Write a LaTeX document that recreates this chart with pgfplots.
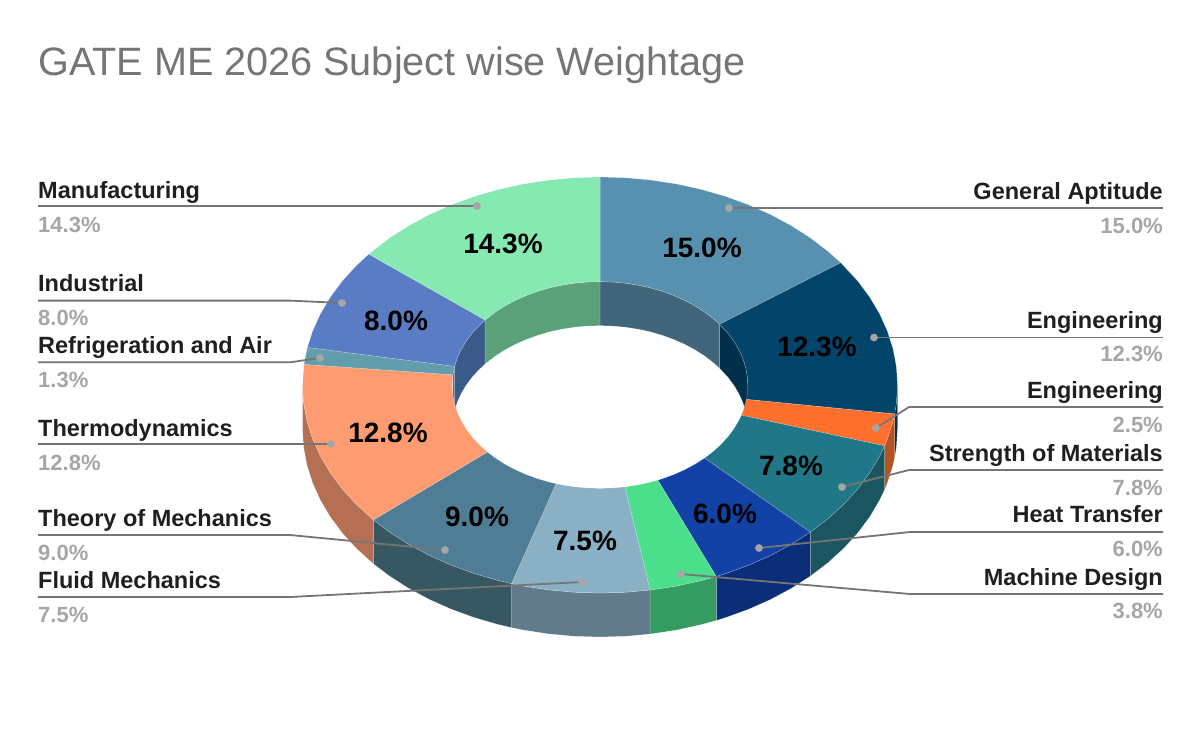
\documentclass[border=0pt]{standalone}
\usepackage{fontspec}
\setmainfont{Liberation Sans}
\usepackage{pgfplots}
\pgfplotsset{compat=1.18}

% top face colours
\definecolor{cGA}{HTML}{5891B0}
\definecolor{cEa}{HTML}{03456A}
\definecolor{cEb}{HTML}{FF6F2E}
\definecolor{cSM}{HTML}{1F7787}
\definecolor{cHT}{HTML}{1242A6}
\definecolor{cMD}{HTML}{4CDF8B}
\definecolor{cFM}{HTML}{8AB0C6}
\definecolor{cTM}{HTML}{4F7D95}
\definecolor{cTD}{HTML}{FF9B70}
\definecolor{cRA}{HTML}{619DAB}
\definecolor{cIN}{HTML}{5A7CC4}
\definecolor{cMF}{HTML}{85E9B1}
% side wall colours
\definecolor{wGA}{HTML}{41667C}
\definecolor{wEa}{HTML}{02304A}
\definecolor{wEb}{HTML}{B55420}
\definecolor{wSM}{HTML}{1A5560}
\definecolor{wHT}{HTML}{0A2F78}
\definecolor{wMD}{HTML}{359C61}
\definecolor{wFM}{HTML}{627B8A}
\definecolor{wTM}{HTML}{375763}
\definecolor{wTD}{HTML}{B56F52}
\definecolor{wRA}{HTML}{446E78}
\definecolor{wIN}{HTML}{3A5A8A}
\definecolor{wMF}{HTML}{5AA078}
\definecolor{leader}{HTML}{757575}
\definecolor{valgray}{HTML}{A6A6A6}
\definecolor{namecol}{HTML}{1F1F1F}

% t = clockwise angle from the top, r = radius (1 outer), d = depth in pixels
\pgfplotsset{
  table/top/.style={row sep=\\,
    x expr={600+297.5*\thisrow{r}*sin(\thisrow{t})},
    y expr={385-208*\thisrow{r}*cos(\thisrow{t})}},
  table/wall/.style={row sep=\\,
    x expr={600+297.5*\thisrow{r}*sin(\thisrow{t})},
    y expr={385-208*\thisrow{r}*cos(\thisrow{t})+\thisrow{d}}},
  edge/.style={draw=white,draw opacity=.3,line width=.5pt},
  lead/.style={draw=leader,line width=1.8pt},
  dot/.style={only marks,mark=*,mark size=3.6pt,mark options={draw=valgray,fill=valgray}},
}
\newcommand{\nameL}[3]{\node[anchor=base west,inner sep=0,text=namecol,font=\fontsize{23.5}{24}\selectfont\bfseries] at (axis cs:38,#1) {#3};\node[anchor=base west,inner sep=0,text=valgray,font=\fontsize{22}{24}\selectfont\bfseries] at (axis cs:38,#2) {\vphantom{0}\detokenize{}};}
\newcommand{\lbl}[5]{\node[anchor=base #1,inner sep=0,text=namecol,font=\fontsize{23.5}{24}\selectfont\bfseries] at (axis cs:#2,#3) {#5};}
\newcommand{\val}[4]{\node[anchor=base #1,inner sep=0,text=valgray,font=\fontsize{22}{24}\selectfont\bfseries] at (axis cs:#2,#3) {#4\%};}
\newcommand{\pct}[3]{\node[anchor=center,inner sep=0,text=black,font=\fontsize{28}{28}\selectfont\bfseries] at (axis cs:#1,#2) {#3\%};}

\begin{document}
\begin{tikzpicture}
\useasboundingbox (0,0) rectangle (1200pt,742pt);
\begin{axis}[
  at={(0,0)},anchor=south west,
  scale only axis,width=1200pt,height=742pt,
  xmin=0,xmax=1200,ymin=0,ymax=742,y dir=reverse,
  hide axis,
]
% outer walls
\addplot[fill=wEa,edge] table[wall]{t r d\\90 1 0\\95 1 0\\98 1 0\\98 1 44\\95 1 44\\90 1 44\\} --cycle;
\addplot[fill=wEb,edge] table[wall]{t r d\\98 1 0\\100 1 0\\105 1 0\\107 1 0\\107 1 44\\105 1 44\\100 1 44\\98 1 44\\} --cycle;
\addplot[fill=wSM,edge] table[wall]{t r d\\107 1 0\\110 1 0\\115 1 0\\120 1 0\\125 1 0\\130 1 0\\135 1 0\\135 1 44\\130 1 44\\125 1 44\\120 1 44\\115 1 44\\110 1 44\\107 1 44\\} --cycle;
\addplot[fill=wHT,edge] table[wall]{t r d\\135 1 0\\140 1 0\\145 1 0\\150 1 0\\155 1 0\\157 1 0\\157 1 44\\155 1 44\\150 1 44\\145 1 44\\140 1 44\\135 1 44\\} --cycle;
\addplot[fill=wMD,edge] table[wall]{t r d\\157 1 0\\160 1 0\\165 1 0\\170.3 1 0\\170.3 1 44\\165 1 44\\160 1 44\\157 1 44\\} --cycle;
\addplot[fill=wFM,edge] table[wall]{t r d\\170.3 1 0\\175 1 0\\180 1 0\\185 1 0\\190 1 0\\195 1 0\\197.3 1 0\\197.3 1 44\\195 1 44\\190 1 44\\185 1 44\\180 1 44\\175 1 44\\170.3 1 44\\} --cycle;
\addplot[fill=wTM,edge] table[wall]{t r d\\197.3 1 0\\200 1 0\\205 1 0\\210 1 0\\215 1 0\\220 1 0\\225 1 0\\229.6 1 0\\229.6 1 44\\225 1 44\\220 1 44\\215 1 44\\210 1 44\\205 1 44\\200 1 44\\197.3 1 44\\} --cycle;
\addplot[fill=wTD,edge] table[wall]{t r d\\229.6 1 0\\235 1 0\\240 1 0\\245 1 0\\250 1 0\\255 1 0\\260 1 0\\265 1 0\\270 1 0\\270 1 44\\265 1 44\\260 1 44\\255 1 44\\250 1 44\\245 1 44\\240 1 44\\235 1 44\\229.6 1 44\\} --cycle;
% inner walls, back half of the hole
\addplot[fill=wRA,edge] table[wall]{t r d\\275.7 .497 0\\280.4 .497 0\\280.4 .497 44\\275.7 .497 44\\} --cycle;
\addplot[fill=wIN,edge] table[wall]{t r d\\280.4 .497 0\\285 .497 0\\290 .497 0\\295 .497 0\\300 .497 0\\305 .497 0\\309 .497 0\\309 .497 44\\305 .497 44\\300 .497 44\\295 .497 44\\290 .497 44\\285 .497 44\\280.4 .497 44\\} --cycle;
\addplot[fill=wMF,edge] table[wall]{t r d\\309 .497 0\\315 .497 0\\320 .497 0\\325 .497 0\\330 .497 0\\335 .497 0\\340 .497 0\\345 .497 0\\350 .497 0\\355 .497 0\\360 .497 0\\360 .497 44\\355 .497 44\\350 .497 44\\345 .497 44\\340 .497 44\\335 .497 44\\330 .497 44\\325 .497 44\\320 .497 44\\315 .497 44\\309 .497 44\\} --cycle;
\addplot[fill=wGA,edge] table[wall]{t r d\\0 .497 0\\5 .497 0\\10 .497 0\\15 .497 0\\20 .497 0\\25 .497 0\\30 .497 0\\35 .497 0\\40 .497 0\\45 .497 0\\50 .497 0\\54 .497 0\\54 .497 44\\50 .497 44\\45 .497 44\\40 .497 44\\35 .497 44\\30 .497 44\\25 .497 44\\20 .497 44\\15 .497 44\\10 .497 44\\5 .497 44\\0 .497 44\\} --cycle;
\addplot[fill=wEa,edge] table[wall]{t r d\\54 .497 0\\60 .497 0\\65 .497 0\\70 .497 0\\75 .497 0\\80 .497 0\\85 .497 0\\90 .497 0\\90 .497 44\\85 .497 44\\80 .497 44\\75 .497 44\\70 .497 44\\65 .497 44\\60 .497 44\\54 .497 44\\} --cycle;
% top faces
\addplot[fill=cGA,edge] table[top]{t r\\0 1\\5 1\\10 1\\15 1\\20 1\\25 1\\30 1\\35 1\\40 1\\45 1\\50 1\\54 1\\54 .497\\50 .497\\45 .497\\40 .497\\35 .497\\30 .497\\25 .497\\20 .497\\15 .497\\10 .497\\5 .497\\0 .497\\} --cycle;
\addplot[fill=cEa,edge] table[top]{t r\\54 1\\60 1\\65 1\\70 1\\75 1\\80 1\\85 1\\90 1\\95 1\\98 1\\98 .497\\95 .497\\90 .497\\85 .497\\80 .497\\75 .497\\70 .497\\65 .497\\60 .497\\54 .497\\} --cycle;
\addplot[fill=cEb,edge] table[top]{t r\\98 1\\100 1\\105 1\\107 1\\107 .497\\105 .497\\100 .497\\98 .497\\} --cycle;
\addplot[fill=cSM,edge] table[top]{t r\\107 1\\110 1\\115 1\\120 1\\125 1\\130 1\\135 1\\135 .497\\130 .497\\125 .497\\120 .497\\115 .497\\110 .497\\107 .497\\} --cycle;
\addplot[fill=cHT,edge] table[top]{t r\\135 1\\140 1\\145 1\\150 1\\155 1\\157 1\\157 .497\\155 .497\\150 .497\\145 .497\\140 .497\\135 .497\\} --cycle;
\addplot[fill=cMD,edge] table[top]{t r\\157 1\\160 1\\165 1\\170.3 1\\170.3 .497\\165 .497\\160 .497\\157 .497\\} --cycle;
\addplot[fill=cFM,edge] table[top]{t r\\170.3 1\\175 1\\180 1\\185 1\\190 1\\195 1\\197.3 1\\197.3 .497\\195 .497\\190 .497\\185 .497\\180 .497\\175 .497\\170.3 .497\\} --cycle;
\addplot[fill=cTM,edge] table[top]{t r\\197.3 1\\200 1\\205 1\\210 1\\215 1\\220 1\\225 1\\229.6 1\\229.6 .497\\225 .497\\220 .497\\215 .497\\210 .497\\205 .497\\200 .497\\197.3 .497\\} --cycle;
\addplot[fill=cTD,edge] table[top]{t r\\229.6 1\\235 1\\240 1\\245 1\\250 1\\255 1\\260 1\\265 1\\270 1\\275.7 1\\275.7 .497\\270 .497\\265 .497\\260 .497\\255 .497\\250 .497\\245 .497\\240 .497\\235 .497\\229.6 .497\\} --cycle;
\addplot[fill=cRA,edge] table[top]{t r\\275.7 1\\280.4 1\\280.4 .497\\275.7 .497\\} --cycle;
\addplot[fill=cIN,edge] table[top]{t r\\280.4 1\\285 1\\290 1\\295 1\\300 1\\305 1\\309 1\\309 .497\\305 .497\\300 .497\\295 .497\\290 .497\\285 .497\\280.4 .497\\} --cycle;
\addplot[fill=cMF,edge] table[top]{t r\\309 1\\315 1\\320 1\\325 1\\330 1\\335 1\\340 1\\345 1\\350 1\\355 1\\360 1\\360 .497\\355 .497\\350 .497\\345 .497\\340 .497\\335 .497\\330 .497\\325 .497\\320 .497\\315 .497\\309 .497\\} --cycle;
% leader lines
\addplot[lead] coordinates {(38,206) (477,206)};
\addplot[lead] coordinates {(38,300.6) (290,300.6) (342,303)};
\addplot[lead] coordinates {(38,362.3) (290,362.3) (320,358)};
\addplot[lead] coordinates {(38,444) (331,444)};
\addplot[lead] coordinates {(38,535) (290,535) (445,550)};
\addplot[lead] coordinates {(38,597) (290,597) (582,582)};
\addplot[lead] coordinates {(1163,208) (729,208)};
\addplot[lead] coordinates {(1163,337.5) (874,337.5)};
\addplot[lead] coordinates {(1163,407) (909,407) (876,428)};
\addplot[lead] coordinates {(1163,470) (909,470) (842,487)};
\addplot[lead] coordinates {(1163,532) (910,532) (759,548)};
\addplot[lead] coordinates {(1163,594) (910,594) (681,574)};
\addplot[dot] coordinates {(477,206) (342,303) (320,358) (331,444) (445,550) (582,582)
  (729,208) (874,337.5) (876,428) (842,487) (759,548) (681,574)};
% title
\node[anchor=base west,inner sep=0,text=leader,font=\fontsize{39.6}{40}\selectfont] at (axis cs:38,75) {GATE ME 2026 Subject wise Weightage};
% left labels
\lbl{west}{38}{198}{}{Manufacturing}\val{west}{38}{232}{14.3}
\lbl{west}{38}{291}{}{Industrial}\val{west}{38}{325}{8.0}
\lbl{west}{38}{353}{}{Refrigeration and Air}\val{west}{38}{387}{1.3}
\lbl{west}{38}{436}{}{Thermodynamics}\val{west}{38}{470}{12.8}
\lbl{west}{38}{526}{}{Theory of Mechanics}\val{west}{38}{560}{9.0}
\lbl{west}{38}{588}{}{Fluid Mechanics}\val{west}{38}{622}{7.5}
% right labels
\lbl{east}{1163}{199}{}{General Aptitude}\val{east}{1163}{233}{15.0}
\lbl{east}{1163}{328}{}{Engineering}\val{east}{1163}{361}{12.3}
\lbl{east}{1163}{398}{}{Engineering}\val{east}{1163}{432}{2.5}
\lbl{east}{1163}{461}{}{Strength of Materials}\val{east}{1163}{495}{7.8}
\lbl{east}{1163}{522}{}{Heat Transfer}\val{east}{1163}{556}{6.0}
\lbl{east}{1163}{585}{}{Machine Design}\val{east}{1163}{618}{3.8}
% percentages on the slices
\pct{702}{248}{15.0}
\pct{817}{347}{12.3}
\pct{791}{466}{7.8}
\pct{725}{514}{6.0}
\pct{585}{541}{7.5}
\pct{477}{517}{9.0}
\pct{388}{433}{12.8}
\pct{396}{321}{8.0}
\pct{503}{244}{14.3}
\end{axis}
\end{tikzpicture}
\end{document}
